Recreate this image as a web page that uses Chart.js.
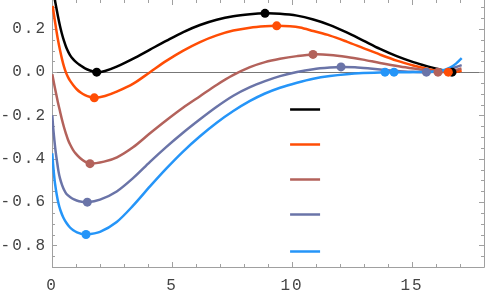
<!DOCTYPE html>
<html>
<head>
<meta charset="utf-8">
<script src="https://cdn.jsdelivr.net/npm/chart.js@4"></script>
<style>
html, body { margin: 0; padding: 0; background: #fff; }
</style>
</head>
<body>
<canvas id="myChart" width="488" height="297"></canvas>
<script>
// curve data
const xBlack = [0.104, 0.125, 0.167, 0.25, 0.333, 0.404, 0.5, 0.6125, 0.75, 0.8875, 1.029, 1.167, 1.375, 1.583, 1.8625, 2.208, 2.696, 3.3875, 4.083, 4.779, 5.471, 6.167, 6.8625, 7.554, 8.25, 8.875, 9.5, 10.208, 10.8875, 11.583, 12.279, 12.971, 13.667, 14.3625, 15.054, 15.6125, 16.029, 16.375, 16.667, 17.0];
const yBlack = [0.36, 0.331, 0.306, 0.257, 0.213, 0.181, 0.144, 0.1088, 0.0787, 0.0588, 0.044, 0.0324, 0.0176, 0.0079, 0.0, 0.0056, 0.0255, 0.0625, 0.1042, 0.1458, 0.1852, 0.2176, 0.2417, 0.2583, 0.2676, 0.2718, 0.2699, 0.2611, 0.2431, 0.2176, 0.1838, 0.1458, 0.1074, 0.0741, 0.0463, 0.0278, 0.0162, 0.0065, 0.0, 0.0056];

const xOrange = [0.029, 0.083, 0.167, 0.25, 0.333, 0.417, 0.5, 0.583, 0.667, 0.75, 0.8875, 1.042, 1.208, 1.375, 1.5625, 1.7625, 2.208, 2.696, 3.3875, 4.083, 4.779, 5.471, 6.167, 6.8625, 7.554, 8.25, 8.875, 9.3625, 9.917, 10.333, 10.8875, 11.583, 12.279, 12.971, 13.667, 14.3625, 15.054, 15.6125, 16.042, 16.5125, 16.792, 17.07];
const yOrange = [0.3056, 0.2639, 0.2037, 0.1481, 0.1019, 0.0602, 0.0255, -0.0023, -0.0231, -0.0394, -0.0602, -0.0801, -0.0949, -0.1056, -0.1139, -0.1185, -0.1102, -0.0903, -0.0532, 0.0, 0.0532, 0.0995, 0.1389, 0.1699, 0.1921, 0.2056, 0.212, 0.2139, 0.2116, 0.206, 0.1898, 0.169, 0.1412, 0.1111, 0.081, 0.0532, 0.031, 0.0162, 0.0069, 0.0, 0.0009, 0.006];

const xMauve = [0.0125, 0.083, 0.167, 0.25, 0.333, 0.417, 0.5, 0.583, 0.667, 0.75, 0.875, 1.0, 1.167, 1.375, 1.583, 2.167, 2.708, 3.375, 4.083, 4.792, 5.458, 6.167, 6.875, 7.542, 8.25, 8.875, 9.5, 10.208, 10.875, 11.583, 12.292, 12.958, 13.667, 14.5, 15.333, 16.083, 16.583, 17.063];
const yMauve = [-0.0093, -0.0509, -0.0972, -0.1412, -0.1806, -0.2199, -0.2546, -0.2847, -0.3125, -0.3333, -0.3588, -0.3773, -0.3963, -0.413, -0.4227, -0.4134, -0.3935, -0.3472, -0.2824, -0.2199, -0.1644, -0.1111, -0.0579, -0.0139, 0.0231, 0.0463, 0.0616, 0.0741, 0.0819, 0.0796, 0.0704, 0.0579, 0.0426, 0.0264, 0.0125, 0.0, 0.0046, 0.0171];

const xSlate = [0.0125, 0.0417, 0.0833, 0.1458, 0.2083, 0.2708, 0.3333, 0.4167, 0.5, 0.6042, 0.75, 0.9167, 1.125, 1.4708, 2.0, 2.696, 3.3875, 4.083, 4.779, 5.471, 6.167, 6.8625, 7.554, 8.25, 8.875, 9.5, 10.208, 10.8875, 11.583, 12.042, 12.625, 13.25, 13.875, 14.5, 15.042, 15.6, 16.167, 16.583, 17.07];
const ySlate = [-0.1991, -0.2454, -0.2963, -0.3611, -0.412, -0.4583, -0.4907, -0.5208, -0.5431, -0.563, -0.5764, -0.588, -0.5963, -0.6005, -0.5889, -0.5509, -0.4884, -0.4144, -0.344, -0.2787, -0.2176, -0.1597, -0.1088, -0.0694, -0.0417, -0.0185, 0.0009, 0.0139, 0.0213, 0.0241, 0.0222, 0.0167, 0.0102, 0.0046, 0.0019, 0.0, 0.0037, 0.0148, 0.0324];

const xBlue = [0.0125, 0.0417, 0.0833, 0.125, 0.1958, 0.2708, 0.3542, 0.4708, 0.6042, 0.75, 0.8875, 1.0417, 1.2083, 1.4167, 2.0, 2.696, 3.3875, 4.083, 4.779, 5.471, 6.167, 6.8625, 7.554, 8.25, 8.875, 9.5, 10.208, 10.8875, 11.583, 12.279, 12.958, 13.875, 14.25, 14.917, 15.54, 16.083, 16.375, 16.583, 16.833, 17.07];
const yBlue = [-0.375, -0.4213, -0.4722, -0.5139, -0.5648, -0.6065, -0.6389, -0.6713, -0.6968, -0.7176, -0.7306, -0.7398, -0.7463, -0.75, -0.7375, -0.6921, -0.6157, -0.5278, -0.4435, -0.3657, -0.2963, -0.2338, -0.1796, -0.1329, -0.0986, -0.0718, -0.0486, -0.0301, -0.0176, -0.0093, -0.0042, 0.0, 0.0, 0.0, 0.0014, 0.0046, 0.0116, 0.0208, 0.0394, 0.0648];

// marked points (extrema)
const dotsBlackX = [1.8625, 8.875, 16.667];
const dotsBlackY = [0.0, 0.2718, 0.0];
const dotsOrangeX = [1.7625, 9.3625, 16.5125];
const dotsOrangeY = [-0.1185, 0.2139, 0.0];
const dotsMauveX = [1.583, 10.875, 16.083];
const dotsMauveY = [-0.4227, 0.0819, 0.0];
const dotsSlateX = [1.4708, 12.042, 15.6];
const dotsSlateY = [-0.6005, 0.0241, 0.0];
const dotsBlueX = [1.4167, 13.875, 14.25];
const dotsBlueY = [-0.75, 0.0, 0.0];

// legend keys (no text), in data units
const legendX = [9.92, 11.17];
const legendY = [-0.171, -0.333, -0.495, -0.657, -0.824];

const colors = ['#000000', '#ff4d05', '#b3625b', '#6a74a8', '#2595f8'];

const pts = (xs, ys) => xs.map((v, i) => ({ x: v, y: ys[i] }));

const curves = [
    pts(xBlack, yBlack),
    pts(xOrange, yOrange),
    pts(xMauve, yMauve),
    pts(xSlate, ySlate),
    pts(xBlue, yBlue)
];
const dots = [
    pts(dotsBlackX, dotsBlackY),
    pts(dotsOrangeX, dotsOrangeY),
    pts(dotsMauveX, dotsMauveY),
    pts(dotsSlateX, dotsSlateY),
    pts(dotsBlueX, dotsBlueY)
];

const datasets = [];
curves.forEach((d, i) => {
    datasets.push({
        data: d,
        borderColor: colors[i],
        borderWidth: 2.5,
        pointRadius: 0,
        tension: 0.3,
        clip: 0,
        order: 10 - i
    });
});
dots.forEach((d, i) => {
    datasets.push({
        data: d,
        showLine: false,
        pointRadius: 4.5,
        pointBackgroundColor: colors[i],
        pointBorderWidth: 0,
        clip: 6,
        order: 5 - i
    });
});

const tickFont = { family: 'Liberation Mono', size: 16 };

// frame with inward ticks, zero line, legend keys
const framePlugin = {
    id: 'frame',
    beforeDraw(chart) {
        chart.ctx.letterSpacing = '2px';
    },
    beforeDatasetsDraw(chart) {
        const ctx = chart.ctx;
        const a = chart.chartArea;
        const x = chart.scales.x;
        const y = chart.scales.y;
        ctx.save();
        ctx.letterSpacing = '0px';
        ctx.lineWidth = 1;

        ctx.strokeStyle = '#777';
        const y0 = Math.round(y.getPixelForValue(0)) + 0.5;
        ctx.beginPath();
        ctx.moveTo(a.left, y0);
        ctx.lineTo(a.right, y0);
        ctx.stroke();

        ctx.strokeStyle = '#a0a0a0';
        ctx.beginPath();
        ctx.moveTo(a.left + 0.5, a.top);
        ctx.lineTo(a.left + 0.5, a.bottom + 0.5);
        ctx.lineTo(a.right + 0.5, a.bottom + 0.5);
        ctx.lineTo(a.right + 0.5, a.top);
        ctx.stroke();

        ctx.beginPath();
        for (let v = 0; v <= 18; v++) {
            const len = v % 5 === 0 ? 5 : 3;
            const px = Math.round(x.getPixelForValue(v)) + 0.5;
            ctx.moveTo(px, a.bottom);
            ctx.lineTo(px, a.bottom - len);
            ctx.moveTo(px, a.top);
            ctx.lineTo(px, a.top + len);
        }
        for (let i = -18; i <= 6; i++) {
            const len = i % 4 === 0 ? 5 : 3;
            const py = Math.round(y.getPixelForValue(i * 0.05)) + 0.5;
            ctx.moveTo(a.left, py);
            ctx.lineTo(a.left + len, py);
            ctx.moveTo(a.right, py);
            ctx.lineTo(a.right - len, py);
        }
        ctx.stroke();
        ctx.restore();
    },
    afterDatasetsDraw(chart) {
        const ctx = chart.ctx;
        const x = chart.scales.x;
        const y = chart.scales.y;
        ctx.save();
        ctx.lineWidth = 2.5;
        legendY.forEach((v, i) => {
            const yy = Math.round(y.getPixelForValue(v)) + 0.5;
            ctx.strokeStyle = colors[i];
            ctx.beginPath();
            ctx.moveTo(x.getPixelForValue(legendX[0]), yy);
            ctx.lineTo(x.getPixelForValue(legendX[1]), yy);
            ctx.stroke();
        });
        ctx.restore();
    }
};

const ctx = document.getElementById('myChart').getContext('2d');
const myChart = new Chart(ctx, {
    type: 'line',
    data: { datasets: datasets },
    options: {
        responsive: false,
        animation: false,
        devicePixelRatio: 1,
        layout: {
            autoPadding: false,
            padding: { top: 0, right: 4, left: 0, bottom: 0 }
        },
        plugins: {
            legend: { display: false },
            tooltip: { enabled: false }
        },
        scales: {
            x: {
                type: 'linear',
                min: 0,
                max: 18,
                grid: { display: false, drawTicks: false, tickLength: 0 },
                border: { display: false },
                ticks: {
                    stepSize: 5,
                    includeBounds: false,
                    maxRotation: 0,
                    font: tickFont,
                    color: '#444',
                    padding: 9
                },
                afterFit: (scale) => {
                    scale.height = 30;
                    scale.paddingLeft = 0;
                    scale.paddingRight = 0;
                }
            },
            y: {
                type: 'linear',
                min: -0.9,
                max: 0.3333,
                grid: { display: false, drawTicks: false, tickLength: 0 },
                border: { display: false },
                ticks: {
                    stepSize: 0.2,
                    includeBounds: false,
                    font: tickFont,
                    color: '#444',
                    padding: 5,
                    callback: (v) => v.toFixed(1)
                },
                afterFit: (scale) => {
                    scale.width = 52;
                    scale.paddingTop = 0;
                    scale.paddingBottom = 0;
                }
            }
        }
    },
    plugins: [framePlugin]
});
</script>
</body>
</html>
